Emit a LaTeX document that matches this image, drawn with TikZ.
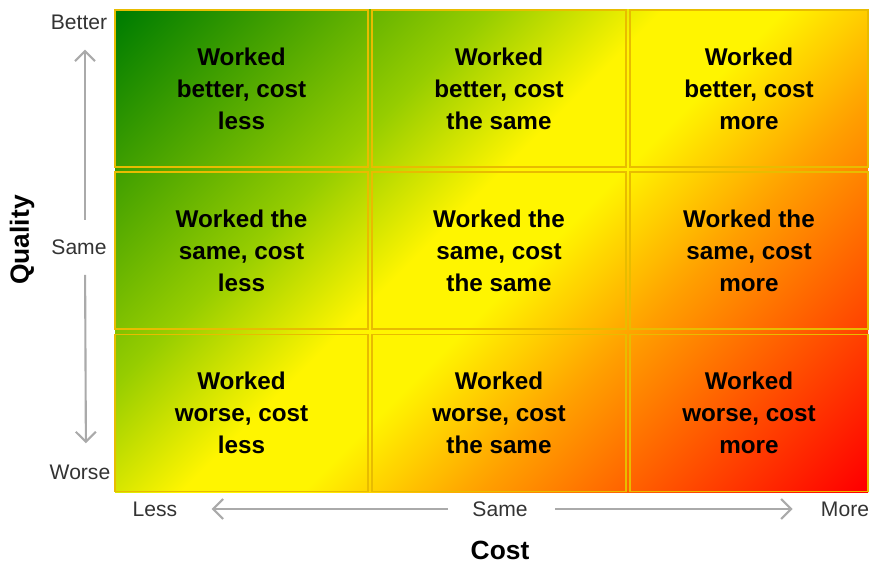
\documentclass[tikz,border=0pt]{standalone}
\usepackage{fontspec}
\setmainfont{Liberation Sans}
\usetikzlibrary{arrows.meta}
\definecolor{qgreen}{RGB}{0,125,0}
\definecolor{qlime}{RGB}{150,205,0}
\definecolor{qyellow}{RGB}{255,245,0}
\definecolor{qorange}{RGB}{255,160,0}
\definecolor{qred}{RGB}{255,0,0}
\definecolor{qgold}{RGB}{232,188,0}
\definecolor{qgray}{RGB}{170,170,170}
\pgfdeclarehorizontalshading{qcgrad}{100bp}{color(0bp)=(qgreen); color(15bp)=(qgreen); color(36bp)=(qlime); color(46bp)=(qyellow); color(53bp)=(qyellow); color(63bp)=(qorange); color(85bp)=(qred); color(100bp)=(qred)}

\begin{document}
\begin{tikzpicture}[x=0.02cm, y=-0.02cm]
        \tikzstyle{cell} = [rectangle, draw=qgold, line width=0.8pt, minimum height=3.14cm, text centered, align=center, font=\fontsize{13.8}{18.2}\selectfont\bfseries]
        \tikzstyle{tick} = [inner sep=0pt, text=black!80, font=\fontsize{12}{14}\selectfont]
        \tikzstyle{axis} = [font=\fontsize{15}{18}\selectfont\bfseries]
        \tikzstyle{arrow} = [qgray, line width=1.2pt, -{Straight Barb[length=2mm, width=4mm]}]
        \useasboundingbox (0,0) rectangle (869,564);
        \shade[shading=qcgrad, shading angle=-45] (115,10) rectangle (868,492);
        % the nine cells
        \node [cell, minimum width=5.06cm] (1) at (241.5,88.5) {Worked\\better, cost\\less};
        \node [cell, minimum width=5.08cm] (2) at (499,88.5) {Worked\\better, cost\\the same};
        \node [cell, minimum width=4.76cm] (3) at (749,88.5) {Worked\\better, cost\\more};
        \node [cell, minimum width=5.06cm] (4) at (241.5,250.5) {Worked the\\same, cost\\less};
        \node [cell, minimum width=5.08cm] (5) at (499,250.5) {Worked the\\same, cost\\the same};
        \node [cell, minimum width=4.76cm] (6) at (749,250.5) {Worked the\\same, cost\\more};
        \node [cell, minimum width=5.06cm] (7) at (241.5,413) {Worked\\worse, cost\\less};
        \node [cell, minimum width=5.08cm] (8) at (499,413) {Worked\\worse, cost\\the same};
        \node [cell, minimum width=4.76cm] (9) at (749,413) {Worked\\worse, cost\\more};
        % quality axis
        \node [tick] (better) at (79,22) {Better};
        \node [tick] (qsame) at (79,247) {Same};
        \node [tick] (worse) at (80,472) {Worse};
        \node [axis, rotate=90] (quality) at (22,240) {Quality};
        \draw[arrow, shorten <=0.39cm, shorten >=0.4cm] ([xshift=0.12cm]qsame.north) to ([xshift=0.12cm]better.south);
        \draw[arrow, shorten <=0.4cm, shorten >=0.42cm] ([xshift=0.12cm]qsame.south) to ([xshift=0.12cm]worse.north);
        % cost axis
        \node [tick] (less) at (155,509) {Less};
        \node [tick] (csame) at (500,509) {Same};
        \node [tick] (more) at (845,509) {More};
        \node [axis] (cost) at (500,550) {Cost};
        \draw[arrow, shorten <=0.48cm, shorten >=0.68cm] (csame.west) to (less.east);
        \draw[arrow, shorten <=0.55cm, shorten >=0.56cm] (csame.east) to (more.west);
\end{tikzpicture}
\end{document}
